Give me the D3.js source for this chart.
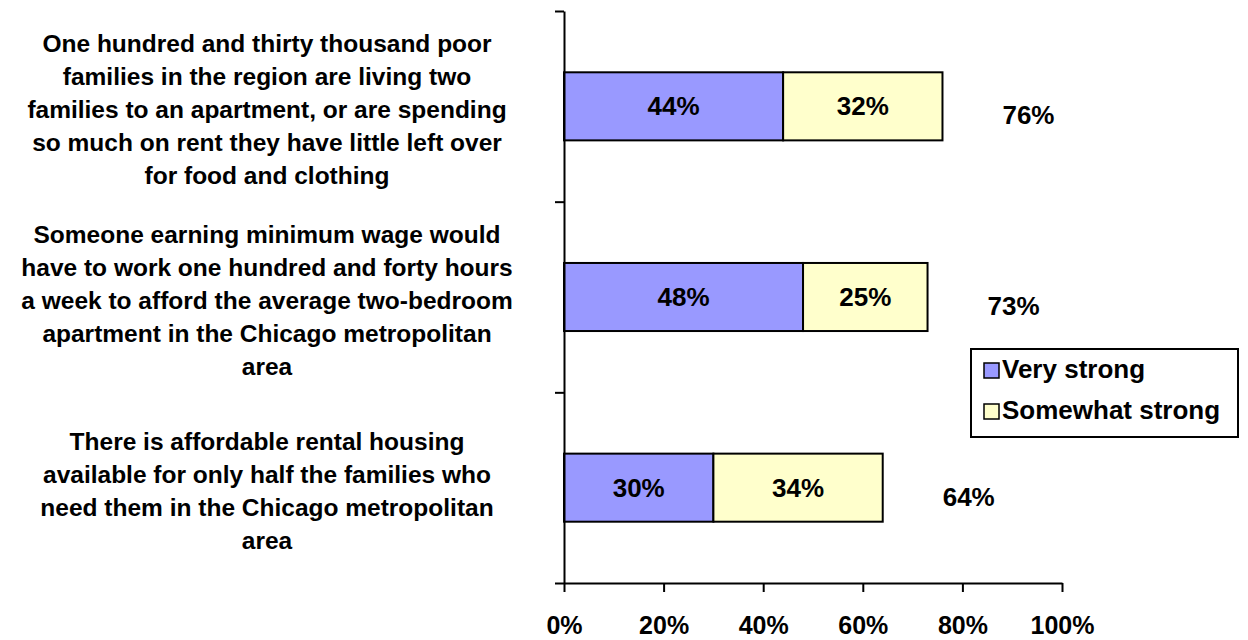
<!DOCTYPE html>
<html>
<head>
<meta charset="utf-8">
<script src="https://cdn.jsdelivr.net/npm/d3@7"></script>
<style>
  body { margin: 0; background: #fff; }
  text { font-family: "Liberation Sans", Arial, sans-serif; font-weight: bold; fill: #000; }
</style>
</head>
<body>
<div id="chart"></div>
<script>
// data
const categories = [
    ["One hundred and thirty thousand poor", "families in the region are living two", "families to an apartment, or are spending", "so much on rent they have little left over", "for food and clothing"],
    ["Someone earning minimum wage would", "have to work one hundred and forty hours", "a week to afford the average two-bedroom", "apartment in the Chicago metropolitan", "area"],
    ["There is affordable rental housing", "available for only half the families who", "need them in the Chicago metropolitan", "area"]
]
const seriesNames = ["Very strong", "Somewhat strong"]
const veryStrong = [44, 48, 30]
const somewhatStrong = [32, 25, 34]
const totals = [76, 73, 64]
const xTicks = [0, 20, 40, 60, 80, 100]

const width = 1248
const height = 640
const plot = { left: 564, right: 1062, top: 11, bottom: 583 }
const colors = ["#9999ff", "#ffffcc"]

const svg = d3.select("div#chart").append("svg").attr("width", width).attr("height", height)
svg.append("rect").attr("width", width).attr("height", height).attr("fill", "#fff")

const x = d3.scaleLinear().domain([0, 100]).range([plot.left, plot.right])
const y = d3.scaleBand().domain(d3.range(categories.length)).range([plot.top, plot.bottom])
    .paddingInner(0.643).paddingOuter(0.3215)
// category edges for the y axis ticks (Excel puts them between categories)
const yEdge = d3.scaleLinear().domain([0, categories.length]).range([plot.top, plot.bottom])

const rows = categories.map((c, i) => ({ i: i, parts: [veryStrong[i], somewhatStrong[i]], total: totals[i] }))

// bars
const rowG = svg.selectAll(".row").data(rows).enter().append("g").attr("class", "row")
rowG.each(function(d) {
    let start = 0
    d.parts.forEach((v, k) => {
        const g = d3.select(this)
        g.append("rect")
            .attr("x", x(start))
            .attr("y", y(d.i))
            .attr("width", x(start + v) - x(start))
            .attr("height", y.bandwidth())
            .attr("fill", colors[k])
            .attr("stroke", "#000")
            .attr("stroke-width", 2)
        g.append("text")
            .attr("x", x(start + v / 2))
            .attr("y", y(d.i) + y.bandwidth() / 2 + 9)
            .attr("text-anchor", "middle")
            .style("font-size", "26px")
            .text(v + "%")
        start += v
    })
})

// totals to the right of the bars
svg.selectAll(".total").data(rows).enter().append("text")
    .attr("class", "total")
    .attr("x", d => x(d.total) + 86)
    .attr("y", d => y(d.i) + y.bandwidth() / 2 + 18)
    .attr("text-anchor", "middle")
    .style("font-size", "26px")
    .text(d => d.total + "%")

// axes
const xAxis = d3.axisBottom(x).tickValues(xTicks).tickSize(9).tickSizeOuter(0).tickFormat(d => d + "%")
const xAxisGroup = svg.append("g").attr("transform", `translate(0, ${plot.bottom})`).call(xAxis)
xAxisGroup.selectAll("text").style("font-size", "25px").attr("dy", 0).attr("y", 51)

const yAxis = d3.axisLeft(yEdge).tickValues(d3.range(categories.length + 1)).tickSize(9).tickSizeOuter(0).tickFormat("")
const yAxisGroup = svg.append("g").attr("transform", `translate(${plot.left}, 0)`).call(yAxis)

svg.selectAll(".domain, .tick line").attr("stroke", "#000").attr("stroke-width", 2)

// category labels
const lineH = 33
svg.selectAll(".cat").data(rows).enter().append("text")
    .attr("class", "cat")
    .attr("text-anchor", "middle")
    .style("font-size", "24.5px")
    .each(function(d) {
        const lines = categories[d.i]
        const cy = y(d.i) + y.bandwidth() / 2 + 3
        const y0 = cy - (lines.length - 1) * lineH / 2 + 9
        d3.select(this).selectAll("tspan").data(lines).enter().append("tspan")
            .attr("x", 267)
            .attr("y", (l, j) => y0 + j * lineH)
            .text(l => l)
    })

// legend
const legend = svg.append("g").attr("transform", "translate(971, 349)")
legend.append("rect").attr("width", 267).attr("height", 88)
    .attr("fill", "#fff").attr("stroke", "#000").attr("stroke-width", 2)
seriesNames.forEach((name, k) => {
    legend.append("rect")
        .attr("x", 13).attr("y", 14 + k * 41)
        .attr("width", 15).attr("height", 15)
        .attr("fill", colors[k]).attr("stroke", "#000").attr("stroke-width", 1.5)
    legend.append("text")
        .attr("x", 31).attr("y", 29 + k * 41)
        .style("font-size", "26px")
        .text(name)
})
</script>
</body>
</html>
